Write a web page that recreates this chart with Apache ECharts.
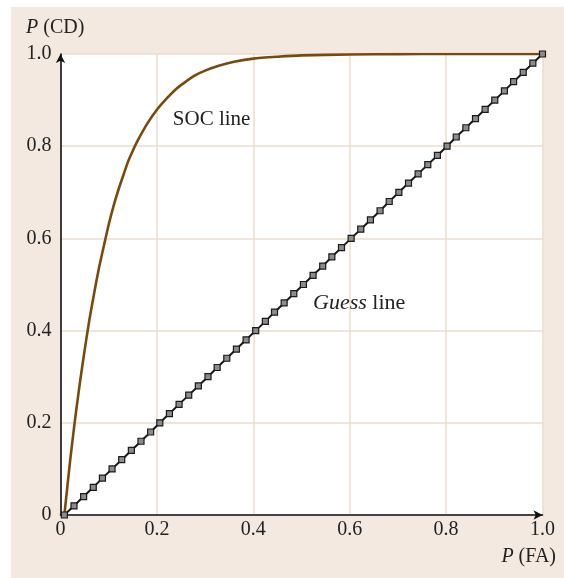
<!DOCTYPE html>
<html>
<head>
<meta charset="utf-8">
<script src="https://cdn.jsdelivr.net/npm/echarts@6/dist/echarts.min.js"></script>
<style>
  html, body { margin: 0; padding: 0; background: #ffffff; }
  #wrap { position: relative; width: 564px; height: 578px; overflow: hidden; }
  #panel { position: absolute; left: 11px; top: 7px; right: 0; bottom: 0; background: #F3E9E0; }
  #chart { position: absolute; left: 0; top: 0; width: 564px; height: 578px; }
</style>
</head>
<body>
<div id="wrap"><div id="panel"></div><div id="chart"></div></div>
<script>
// Axis ticks shared by both axes
const axisTicks = [0, 0.2, 0.4, 0.6, 0.8, 1.0];

// SOC operating characteristic: P(FA) vs P(CD)
const socX = [0.008, 0.02, 0.03, 0.04, 0.05, 0.06, 0.07, 0.08, 0.09, 0.10,
              0.11, 0.12, 0.13, 0.14, 0.15, 0.16, 0.18, 0.20, 0.22, 0.24,
              0.26, 0.28, 0.30, 0.33, 0.36, 0.40, 0.45, 0.50, 0.60, 0.70,
              0.80, 0.90, 1.00];
const socY = [0, 0.118, 0.206, 0.285, 0.357, 0.424, 0.482, 0.537, 0.584, 0.630,
              0.670, 0.705, 0.736, 0.766, 0.790, 0.812, 0.849, 0.879, 0.903, 0.924,
              0.940, 0.954, 0.964, 0.975, 0.983, 0.990, 0.994, 0.997, 0.999, 0.9997,
              1.0, 1.0, 1.0];

// Guess line sample points
const guessX = [0.008, 0.028, 0.048, 0.068, 0.087, 0.107, 0.127, 0.147, 0.167, 0.187,
                0.206, 0.226, 0.246, 0.266, 0.286, 0.306, 0.325, 0.345, 0.365, 0.385,
                0.405, 0.425, 0.444, 0.464, 0.484, 0.504, 0.524, 0.544, 0.563, 0.583,
                0.603, 0.623, 0.643, 0.663, 0.682, 0.702, 0.722, 0.742, 0.762, 0.782,
                0.802, 0.821, 0.841, 0.861, 0.881, 0.901, 0.921, 0.940, 0.960, 0.980, 1.000];
const guessY = [0, 0.02, 0.04, 0.06, 0.08, 0.10, 0.12, 0.14, 0.16, 0.18,
                0.20, 0.22, 0.24, 0.26, 0.28, 0.30, 0.32, 0.34, 0.36, 0.38,
                0.40, 0.42, 0.44, 0.46, 0.48, 0.50, 0.52, 0.54, 0.56, 0.58,
                0.60, 0.62, 0.64, 0.66, 0.68, 0.70, 0.72, 0.74, 0.76, 0.78,
                0.80, 0.82, 0.84, 0.86, 0.88, 0.90, 0.92, 0.94, 0.96, 0.98, 1.00];

// Curve labels: [text, x, y] in data coordinates
const socLabel = ['SOC line', 0.233, 0.859];
const guessLabel = ['Guess', 0.524, 0.46];

const FONT = '"Liberation Serif", "Times New Roman", serif';
const gridColor = '#EADCCB';

const zip = (xs, ys) => xs.map((x, i) => [x, ys[i]]);
const tickFmt = v => (v === 0 ? '0' : v.toFixed(1));

function axisBase(isX) {
  return {
    type: 'value',
    min: axisTicks[0],
    max: axisTicks[axisTicks.length - 1],
    interval: axisTicks[1] - axisTicks[0],
    axisLine: {
      show: true,
      onZero: false,
      symbol: ['none', 'arrow'],
      symbolSize: [7, 9],
      symbolOffset: [0, 0],
      lineStyle: { color: '#111111', width: 1.6 }
    },
    axisTick: { show: false },
    axisLabel: {
      fontFamily: FONT,
      fontSize: 20,
      color: '#222222',
      margin: isX ? 5 : 9,
      formatter: tickFmt
    },
    splitLine: { show: true, lineStyle: { color: gridColor, width: 1.5 } }
  };
}

const chart = echarts.init(document.getElementById('chart'), null, { renderer: 'canvas' });

chart.setOption({
  animation: false,
  backgroundColor: 'transparent',
  grid: {
    left: 60.5, top: 54, width: 482, height: 461,
    show: true, backgroundColor: '#ffffff', borderWidth: 0
  },
  xAxis: axisBase(true),
  yAxis: axisBase(false),
  series: [
    {
      name: 'SOC line',
      type: 'line',
      data: zip(socX, socY),
      smooth: 0.2,
      showSymbol: false,
      lineStyle: { color: '#7A4A0C', width: 2.6 },
      z: 3
    },
    {
      name: 'Guess line',
      type: 'line',
      data: zip(guessX, guessY),
      symbol: 'rect',
      symbolSize: 6,
      showAllSymbol: true,
      lineStyle: { color: '#1A1A1A', width: 2 },
      itemStyle: { color: '#8C8C8C', borderColor: '#1A1A1A', borderWidth: 1.2 },
      z: 4
    }
  ]
});

const px = (x, y) => chart.convertToPixel({ gridIndex: 0 }, [x, y]);
const socPos = px(socLabel[1], socLabel[2]);
const guessPos = px(guessLabel[1], guessLabel[2]);

chart.setOption({
  graphic: [
    {
      type: 'text', left: 26, top: 18, z: 10,
      style: {
        text: '{i|P}{n| (CD)}',
        rich: {
          i: { fontFamily: FONT, fontSize: 20, fontStyle: 'italic', fill: '#222222' },
          n: { fontFamily: FONT, fontSize: 20, fill: '#222222' }
        }
      }
    },
    {
      type: 'text', right: 8, top: 547, z: 10,
      style: {
        text: '{i|P}{n| (FA)}',
        rich: {
          i: { fontFamily: FONT, fontSize: 20, fontStyle: 'italic', fill: '#222222' },
          n: { fontFamily: FONT, fontSize: 20, fill: '#222222' }
        }
      }
    },
    {
      type: 'text', x: socPos[0], y: socPos[1], z: 10,
      style: {
        text: socLabel[0],
        font: '21px ' + FONT,
        fill: '#222222',
        verticalAlign: 'middle',
        align: 'left'
      }
    },
    {
      type: 'text', x: guessPos[0], y: guessPos[1], z: 10,
      style: {
        text: '{i|' + guessLabel[0] + '}{n| line}',
        verticalAlign: 'middle',
        align: 'left',
        rich: {
          i: { fontFamily: FONT, fontSize: 22, fontStyle: 'italic', fill: '#222222' },
          n: { fontFamily: FONT, fontSize: 22, fill: '#222222' }
        }
      }
    }
  ]
});
</script>
</body>
</html>
